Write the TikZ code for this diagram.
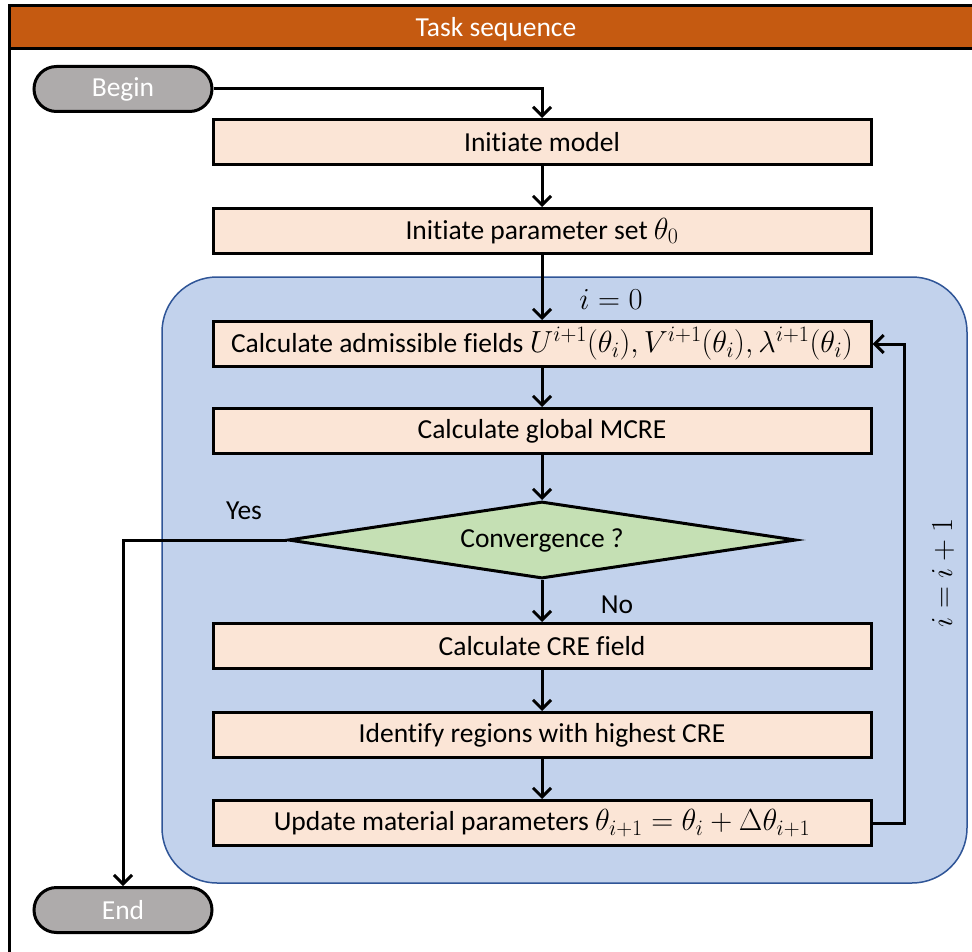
\RequirePackage{fix-cm}
\documentclass[tikz,border=0pt]{standalone}
\usepackage[no-math]{fontspec}
\setmainfont{Carlito}[Ligatures=NoCommon]
\DeclareMathSizes{27.5}{30.5}{22}{17}
\usetikzlibrary{arrows.meta,shapes.geometric,shapes.misc}
\definecolor{hdr}{HTML}{C55A11}
\definecolor{boxfill}{HTML}{FBE5D6}
\definecolor{grpblue}{HTML}{C2D2EC}
\definecolor{grpline}{HTML}{2F5597}
\definecolor{termgray}{HTML}{AEABAB}
\definecolor{decgreen}{HTML}{C5E0B4}
\begin{document}
\begin{tikzpicture}[x=1pt,y=-1pt,
  font=\fontsize{27.5}{33}\selectfont,
  procbox/.style={draw, line width=3pt, fill=boxfill, minimum width=658pt, minimum height=45pt, inner sep=0pt},
  termbox/.style={draw, line width=3pt, fill=termgray, rounded rectangle, minimum width=178pt, minimum height=45pt, inner sep=0pt, text=white},
  decbox/.style={draw, line width=3pt, fill=decgreen, diamond, aspect=6.6, minimum width=508pt, minimum height=77pt, inner sep=0pt},
  flow/.style={line width=3pt, -{Straight Barb[length=9pt,width=18pt]}},
  plain/.style={line width=3pt}]
\useasboundingbox (0,0) rectangle (972,952);
\clip (0,0) rectangle (972,952);
% frame and header
\draw[line width=3pt, fill=hdr] (9,6) rectangle (990,49);
\draw[line width=3pt] (9,6) -- (9,960);
\node[text=white] (title) at (496,29) {Task sequence};
% group
\draw[fill=grpblue, draw=grpline, line width=1.5pt, rounded corners=55pt] (162,277) rectangle (967,883);
% nodes
\node[termbox] (begin) at (123,89) {Begin};
\node[termbox] (end) at (123,910) {End};
\node[procbox] (init) at (542,142) {Initiate model};
\node[procbox] (param) at (542,231) {Initiate parameter set $\theta_0$};
\node[procbox] (calc) at (542,344) {Calculate admissible fields $U^{i+1}(\theta_i),V^{i+1}(\theta_i),\lambda^{i+1}(\theta_i)$};
\node[procbox] (mcre) at (542,431) {Calculate global MCRE};
\node[decbox] (conv) at (542,540) {Convergence ?};
\node[procbox] (cre) at (542,646) {Calculate CRE field};
\node[procbox] (ident) at (542,735) {Identify regions with highest CRE};
\node[procbox] (update) at (542,823) {Update material parameters $\theta_{i+1} = \theta_i + \Delta\theta_{i+1}$};
% labels
\node (lzero) at (611,300) {$i = 0$};
\node (lyes) at (244,511) {Yes};
\node (lno) at (617,605) {No};
\node[rotate=90] (linc) at (943,573) {$i = i + 1$};
% connectors
\draw[flow] (begin.east) -| (init.north);
\draw[flow] (init) -- (param);
\draw[flow] (param) -- (calc);
\draw[flow] (calc) -- (mcre);
\draw[flow] (mcre) -- (conv.north);
\draw[flow] (conv.south) -- (cre);
\draw[flow] (cre) -- (ident);
\draw[flow] (ident) -- (update);
\draw[flow] (update.east) -- ++(32,0) |- (calc.east);
\draw[flow] (conv.west) -| (end.north);
\end{tikzpicture}
\end{document}
